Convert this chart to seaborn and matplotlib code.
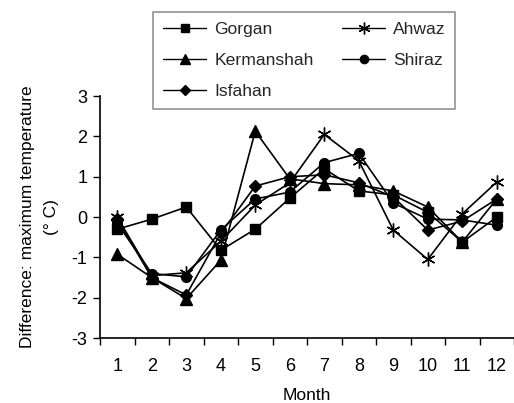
import matplotlib
matplotlib.use("Agg")
import matplotlib.pyplot as plt
from matplotlib.lines import Line2D
import numpy as np
import pandas as pd
import seaborn as sns

# Monthly differences in maximum temperature (°C) per station
months = list(range(1, 13))
gorgan = [-0.30, -0.05, 0.25, -0.82, -0.30, 0.47, 1.20, 0.65, 0.55, 0.12, -0.62, 0.00]
kermanshah = [-0.92, -1.50, -2.02, -1.07, 2.13, 0.95, 0.83, 0.80, 0.65, 0.25, -0.62, 0.45]
isfahan = [-0.05, -1.50, -1.93, -0.40, 0.77, 1.00, 1.05, 0.85, 0.50, -0.32, -0.10, 0.45]
ahwaz = [0.00, -1.45, -1.38, -0.60, 0.30, 0.85, 2.05, 1.40, -0.32, -1.05, 0.08, 0.87]
shiraz = [-0.15, -1.40, -1.48, -0.32, 0.45, 0.62, 1.35, 1.58, 0.35, -0.05, -0.07, -0.20]

stations = ["Gorgan", "Kermanshah", "Isfahan", "Ahwaz", "Shiraz"]
series = [gorgan, kermanshah, isfahan, ahwaz, shiraz]
month_ticks = [str(m) for m in months]
y_ticks = [-3, -2, -1, 0, 1, 2, 3]

df = pd.DataFrame({
    "Month": np.tile(months, len(stations)),
    "Diff": np.concatenate(series),
    "Station": np.repeat(stations, len(months)),
})

sns.set_theme(style="white")
plt.rcParams["font.family"] = ["Liberation Sans", "DejaVu Sans"]

marker_map = {
    "Gorgan": "s",
    "Kermanshah": "^",
    "Isfahan": "D",
    "Ahwaz": (6, 2, 0),
    "Shiraz": "o",
}
size_map = {"Gorgan": 6.5, "Kermanshah": 8, "Isfahan": 6, "Ahwaz": 10, "Shiraz": 7}

fig = plt.figure(figsize=(5.14, 4.03), dpi=100)
ax = fig.add_axes([0.1946, 0.161, 0.8054, 0.6005])

for name in stations:
    sub = df[df["Station"] == name]
    sns.lineplot(
        data=sub, x="Month", y="Diff", ax=ax, color="black", linewidth=1.2,
        marker=marker_map[name], markersize=size_map[name],
        markeredgecolor="black", markerfacecolor="black", markeredgewidth=1.0,
        legend=False,
    )

ax.set_xlim(0.5, 12.5)
ax.set_ylim(-3, 3)
ax.set_xticks(months)
ax.set_xticklabels(month_ticks)
ax.set_xticks(np.arange(0.5, 13.0, 1.0), minor=True)
ax.set_yticks(y_ticks)
ax.set_yticklabels([str(v) for v in y_ticks])

ax.tick_params(axis="x", which="major", length=0, labelsize=13, pad=14, colors="black")
ax.tick_params(axis="x", which="minor", length=5, width=1.0, direction="out",
               bottom=True, color="black")
ax.tick_params(axis="y", which="major", length=5, width=1.0, direction="out",
               left=True, labelsize=13, pad=4, colors="black")

for side in ["top", "right"]:
    ax.spines[side].set_visible(False)
for side in ["left", "bottom"]:
    ax.spines[side].set_color("black")
    ax.spines[side].set_linewidth(1.2)

ax.set_xlabel("Month", fontsize=12.5, labelpad=10, color="black")
ax.set_ylabel("Difference: maximum temperature\n(° C)", fontsize=12.5,
              labelpad=9, color="black", linespacing=1.8)

handles = [
    Line2D([0], [0], color="black", linewidth=1.0, marker=marker_map[n],
           markersize=size_map[n] * 0.85, markerfacecolor="black",
           markeredgecolor="black")
    for n in stations
]
leg = fig.legend(
    handles, stations, ncol=2, loc="upper left",
    bbox_to_anchor=(153 / 514, 1 - 12 / 403), bbox_transform=fig.transFigure,
    fontsize=12.6, frameon=True, fancybox=False, borderpad=0.55,
    labelspacing=0.9, handlelength=2.5, handletextpad=0.45, columnspacing=1.6,
    borderaxespad=0,
)
leg.get_frame().set_edgecolor("#777777")
leg.get_frame().set_linewidth(1.2)
leg.get_frame().set_facecolor("white")

fig.savefig("out.png", dpi=100)
